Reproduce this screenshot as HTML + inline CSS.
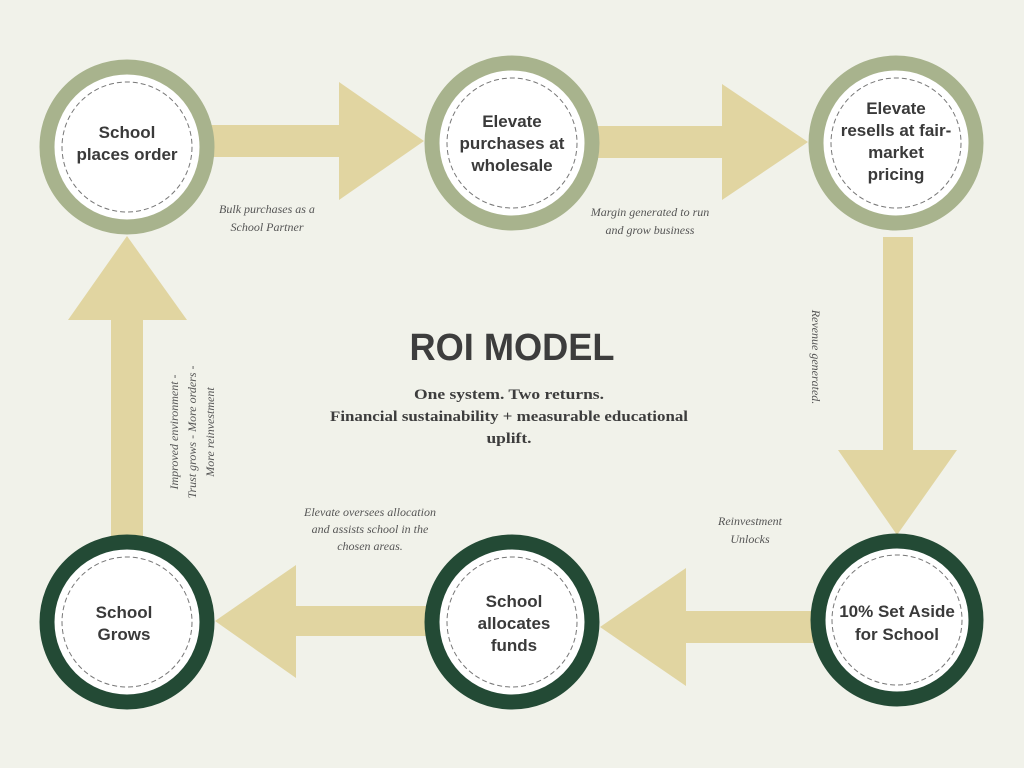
<!DOCTYPE html>
<html><head><meta charset="utf-8"><style>html,body{margin:0;padding:0;background:#f1f2ea}svg{display:block}</style></head>
<body>
<svg width="1024" height="768" viewBox="0 0 1024 768" xmlns="http://www.w3.org/2000/svg">
<rect width="1024" height="768" fill="#f1f2ea"/>
<g fill="#e1d5a1">
<!-- top arrow 1 -->
<polygon points="205,125 339,125 339,82 424,141 339,200 339,157 205,157"/>
<!-- top arrow 2 -->
<polygon points="590,126 722,126 722,84 808,142 722,200 722,158 590,158"/>
<!-- right down -->
<polygon points="883,237 913,237 913,450 957,450 897,535 838,450 883,450"/>
<!-- bottom arrow right -->
<polygon points="815,611 686,611 686,568 600,627 686,686 686,643 815,643"/>
<!-- bottom arrow left -->
<polygon points="430,606 296,606 296,565 215,621 296,678 296,636 430,636"/>
<!-- left up -->
<polygon points="111,540 111,320 68,320 127,236 187,320 143,320 143,540"/>
</g>
<g font-family="Liberation Sans, sans-serif" font-weight="bold" font-size="17" fill="#3a3a3a" text-anchor="middle">
<g>
<circle cx="127" cy="147" r="80" fill="#fff" stroke="#a8b38d" stroke-width="15"/>
<circle cx="127" cy="147" r="65" fill="none" stroke="#777" stroke-width="1" stroke-dasharray="5,3"/>
<text x="127" y="138">School</text><text x="127" y="160">places order</text>
</g>
<g>
<circle cx="512" cy="143" r="80" fill="#fff" stroke="#a8b38d" stroke-width="15"/>
<circle cx="512" cy="143" r="65" fill="none" stroke="#777" stroke-width="1" stroke-dasharray="5,3"/>
<text x="512" y="127">Elevate</text><text x="512" y="149">purchases at</text><text x="512" y="171">wholesale</text>
</g>
<g>
<circle cx="896" cy="143" r="80" fill="#fff" stroke="#a8b38d" stroke-width="15"/>
<circle cx="896" cy="143" r="65" fill="none" stroke="#777" stroke-width="1" stroke-dasharray="5,3"/>
<text x="896" y="114">Elevate</text><text x="896" y="136">resells at fair-</text><text x="896" y="158">market</text><text x="896" y="180">pricing</text>
</g>
<g>
<circle cx="127" cy="622" r="80" fill="#fff" stroke="#234a35" stroke-width="15"/>
<circle cx="127" cy="622" r="65" fill="none" stroke="#777" stroke-width="1" stroke-dasharray="5,3"/>
<text x="124" y="618">School</text><text x="124" y="640">Grows</text>
</g>
<g>
<circle cx="512" cy="622" r="80" fill="#fff" stroke="#234a35" stroke-width="15"/>
<circle cx="512" cy="622" r="65" fill="none" stroke="#777" stroke-width="1" stroke-dasharray="5,3"/>
<text x="514" y="607">School</text><text x="514" y="629">allocates</text><text x="514" y="651">funds</text>
</g>
<g>
<circle cx="897" cy="620" r="79" fill="#fff" stroke="#234a35" stroke-width="15"/>
<circle cx="897" cy="620" r="65" fill="none" stroke="#777" stroke-width="1" stroke-dasharray="5,3"/>
<text x="897" y="617">10% Set Aside</text><text x="897" y="640">for School</text>
</g>
</g>
<text x="512" y="360" font-family="Liberation Sans, sans-serif" font-weight="bold" font-size="38" fill="#3d3d3d" text-anchor="middle" textLength="205" lengthAdjust="spacingAndGlyphs">ROI MODEL</text>
<g font-family="Liberation Serif, serif" font-weight="bold" font-size="15" fill="#3d3d3d" text-anchor="middle">
<text x="509" y="399" textLength="190" lengthAdjust="spacingAndGlyphs">One system. Two returns.</text>
<text x="509" y="421" textLength="358" lengthAdjust="spacingAndGlyphs">Financial sustainability + measurable educational</text>
<text x="509" y="443" textLength="45" lengthAdjust="spacingAndGlyphs">uplift.</text>
</g>
<g font-family="Liberation Serif, serif" font-style="italic" font-size="12" fill="#555" text-anchor="middle">
<text x="267" y="213">Bulk purchases as a</text><text x="267" y="231">School Partner</text>
<text x="650" y="216">Margin generated to run</text><text x="650" y="234">and grow business</text>
<text x="750" y="525">Reinvestment</text><text x="750" y="543">Unlocks</text>
<text x="370" y="516">Elevate oversees allocation</text><text x="370" y="533">and assists school in the</text><text x="370" y="550">chosen areas.</text>
<g transform="translate(192,432) rotate(-90)">
<text x="0" y="-14">Improved environment -</text><text x="0" y="4">Trust grows - More orders -</text><text x="0" y="22">More reinvestment</text>
</g>
<g transform="translate(812,357) rotate(90)">
<text x="0" y="0">Revenue generated.</text>
</g>
</g>
</svg>
</body></html>
